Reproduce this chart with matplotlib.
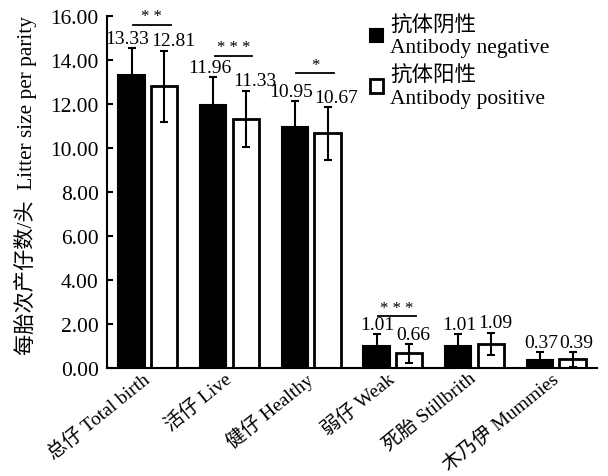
import matplotlib.pyplot as plt
import matplotlib.transforms as mtransforms
import numpy as np
from matplotlib.patches import Patch

plt.rcParams['font.family'] = ['Liberation Serif', 'Noto Sans CJK SC']

categories = ["总仔 Total birth", "活仔 Live", "健仔 Healthy",
              "弱仔 Weak", "死胎 Stillbrith", "木乃伊 Mummies"]
negative = [13.33, 11.96, 10.95, 1.01, 1.01, 0.37]
positive = [12.81, 11.33, 10.67, 0.66, 1.09, 0.39]
negative_sd = [1.22, 1.27, 1.19, 0.54, 0.54, 0.36]
positive_sd = [1.62, 1.28, 1.20, 0.42, 0.52, 0.34]
# significance: group index, line height, stars
sig_groups = [0, 1, 2, 3]
sig_heights = [15.6, 14.2, 13.4, 2.35]
sig_stars = ["* *", "* * *", "*", "* * *"]

fig = plt.figure(figsize=(6.08, 4.77), dpi=100)
ax = fig.add_axes([0.176, 0.2264, 0.806, 0.738])

x = np.arange(len(categories))
w = 0.32
off = 0.2
ax.bar(x - off, negative, w, color="black", edgecolor="black", linewidth=1.5,
       yerr=negative_sd, error_kw=dict(ecolor="black", elinewidth=1.5, capsize=3, capthick=1.5))
ax.bar(x + off, positive, w, color="white", edgecolor="black", linewidth=2,
       yerr=positive_sd, error_kw=dict(ecolor="black", elinewidth=1.5, capsize=3, capthick=1.5))

# value labels
for i in range(len(x)):
    ax.text(x[i] + 0.02, negative[i] + negative_sd[i] + 0.05, f"{negative[i]:.2f}",
            ha="right", va="bottom", fontsize=14)
    ax.text(x[i] + 0.04, positive[i] + positive_sd[i] + 0.05, f"{positive[i]:.2f}",
            ha="left", va="bottom", fontsize=14)

# significance bars
for g, h, s in zip(sig_groups, sig_heights, sig_stars):
    ax.plot([g - 0.18, g + 0.28], [h, h], color="black", lw=1.3)
    ax.text(g + 0.05, h + 0.02, s, ha="center", va="bottom", fontsize=12)

ax.set_xlim(-0.5, 5.5)
ax.set_ylim(0, 16)
ax.set_yticks(np.arange(0, 16.01, 2))
ax.set_yticklabels([f"{v:.2f}" for v in np.arange(0, 16.01, 2)], fontsize=15.5)
ax.set_xticks(x)
ax.set_xticklabels(categories, rotation=39, ha="right", va="center",
                   rotation_mode="anchor", fontsize=14)
shift = mtransforms.ScaledTranslation(8 / 100, 0, fig.dpi_scale_trans)
for lab in ax.get_xticklabels():
    lab.set_transform(lab.get_transform() + shift)
ax.tick_params(axis="x", length=0, pad=6)
ax.tick_params(axis="y", direction="in", length=4, width=1.5, pad=6)
ax.spines["top"].set_visible(False)
ax.spines["right"].set_visible(False)
ax.spines["left"].set_linewidth(1.5)
ax.spines["bottom"].set_linewidth(1.5)
ax.set_ylabel("每胎次产仔数/头  Litter size per parity", fontsize=15.3)
ax.yaxis.set_label_coords(-0.143, 0.52)

handles = [Patch(facecolor="black", edgecolor="black", linewidth=1.5),
           Patch(facecolor="white", edgecolor="black", linewidth=2)]
ax.legend(handles, ["抗体阴性\nAntibody negative", "抗体阳性\nAntibody positive"],
          loc="upper left", bbox_to_anchor=(370 / 608, 1 - 16 / 477),
          bbox_transform=fig.transFigure, borderpad=0, borderaxespad=0,
          frameon=False, fontsize=15.5,
          handlelength=0.6, handleheight=0.6, handletextpad=0.33, labelspacing=0.4)

plt.savefig("out.png", dpi=100)
